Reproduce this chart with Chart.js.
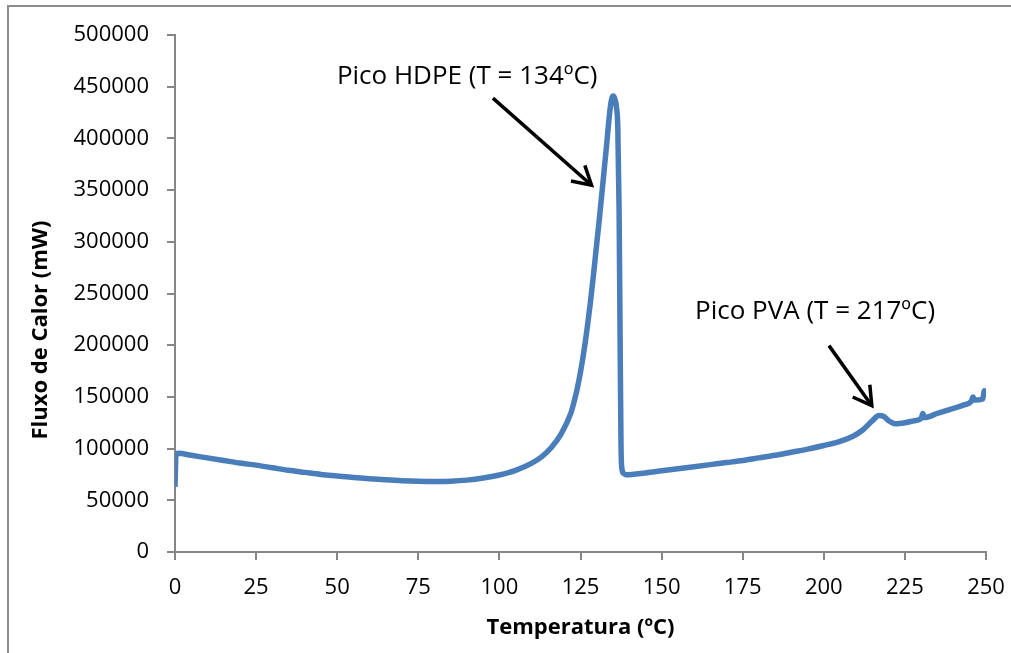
<!DOCTYPE html>
<html>
<head>
<meta charset="utf-8">
<script src="https://cdn.jsdelivr.net/npm/chart.js@4/dist/chart.umd.min.js"></script>
<style>
  html, body { margin: 0; padding: 0; background: #ffffff; }
  #wrap { width: 1011px; height: 653px; position: relative; }
</style>
</head>
<body>
<div id="wrap"><canvas id="c" width="1011" height="653"></canvas></div>
<script>
// Temperature (ºC)
const temperatura = [
  0, 0.3, 1, 5, 10, 15, 20, 25, 30, 35, 40, 45, 50, 55, 60, 65, 70, 75, 80, 85,
  90, 95, 100, 105, 110, 113, 116, 119, 122, 123, 124, 125, 126, 127, 128, 129, 130,
  131, 132, 133, 134, 134.6, 135.1, 135.6, 136.1, 136.5, 136.9, 137.2, 137.5, 137.8, 138.3,
  139, 145, 150, 155, 160, 165, 170, 175, 180, 185, 190, 195, 200, 205, 209, 212,
  215, 217, 218.5, 220, 222, 225, 228, 230, 230.5, 231, 235, 240, 243, 245.5, 246,
  246.5, 249, 249.5, 250
];
// Heat flow (mW)
const fluxo = [
  63000, 94000, 95500, 93500, 91000, 88500, 86000, 84000, 81500, 79000, 77000, 75000, 73500, 72000, 70800, 69800, 69000, 68500, 68300, 68500,
  69500, 71500, 74500, 79000, 86000, 92000, 101000, 114000, 134000, 145000, 158000, 174000, 193000, 215000, 240000, 268000, 298000,
  328000, 360000, 392000, 425000, 438000, 441000, 438000, 430000, 410000, 330000, 210000, 100000, 80000, 76000,
  74800, 76500, 78500, 80500, 82500, 84500, 86500, 88500, 91000, 93500, 96500, 99500, 103000, 107000, 112000, 118000,
  127000, 132000, 131000, 127000, 124000, 125000, 127000, 129000, 134000, 130000, 134000, 139000, 142000, 146000, 150000,
  147000, 148000, 156000, 152000
];
const xTicks = [0, 25, 50, 75, 100, 125, 150, 175, 200, 225, 250];
const yTicks = [0, 50000, 100000, 150000, 200000, 250000, 300000, 350000, 400000, 450000, 500000];

const xTitle = 'Temperatura (ºC)';
const yTitle = 'Fluxo de Calor (mW)';
// annotations: text anchor and arrow in data units
const notes = [
  { text: 'Pico HDPE (T = 134ºC)', tx: 49.9, ty: 460000, ax0: 98, ay0: 439000, ax1: 128.4, ay1: 354700 },
  { text: 'Pico PVA (T = 217ºC)', tx: 160.3, ty: 232600, ax0: 201.6, ay0: 199600, ax1: 214.8, ay1: 141500 }
];

const FONT = "'Open Sans', 'Liberation Sans', sans-serif";
const AXIS = '#868686';

const points = temperatura.map((t, i) => ({ x: t, y: fluxo[i] }));

const decor = {
  id: 'decor',
  beforeDraw(chart) {
    const ctx = chart.ctx;
    ctx.save();
    ctx.fillStyle = '#ffffff';
    ctx.fillRect(0, 0, chart.width, chart.height);
    ctx.strokeStyle = '#8c8c8c';
    ctx.lineWidth = 2;
    ctx.strokeRect(8, 6, chart.width + 20, chart.height + 20);
    ctx.restore();
  },
  afterDraw(chart) {
    const ctx = chart.ctx;
    const xs = chart.scales.x, ys = chart.scales.y;
    ctx.save();
    // y title
    ctx.translate(41, 330);
    ctx.rotate(-Math.PI / 2);
    ctx.font = 'bold 22px ' + FONT;
    ctx.fillStyle = '#000';
    ctx.textAlign = 'center';
    ctx.textBaseline = 'middle';
    ctx.fillText(yTitle, 0, 0);
    ctx.restore();

    ctx.save();
    ctx.font = '26px ' + FONT;
    ctx.fillStyle = '#000';
    ctx.textAlign = 'left';
    ctx.textBaseline = 'middle';
    ctx.strokeStyle = '#000';
    ctx.lineWidth = 3.5;
    ctx.lineCap = 'butt';
    notes.forEach(n => {
      ctx.fillText(n.text, xs.getPixelForValue(n.tx), ys.getPixelForValue(n.ty));
      const x0 = xs.getPixelForValue(n.ax0), y0 = ys.getPixelForValue(n.ay0);
      const x1 = xs.getPixelForValue(n.ax1), y1 = ys.getPixelForValue(n.ay1);
      ctx.beginPath();
      ctx.moveTo(x0, y0);
      ctx.lineTo(x1, y1);
      ctx.stroke();
      const ang = Math.atan2(y1 - y0, x1 - x0);
      const L = 21, sp = Math.PI / 6;
      ctx.beginPath();
      ctx.moveTo(x1 - L * Math.cos(ang - sp), y1 - L * Math.sin(ang - sp));
      ctx.lineTo(x1, y1);
      ctx.lineTo(x1 - L * Math.cos(ang + sp), y1 - L * Math.sin(ang + sp));
      ctx.stroke();
    });
    ctx.restore();
  }
};

new Chart(document.getElementById('c'), {
  type: 'scatter',
  data: {
    datasets: [{
      data: points,
      showLine: true,
      borderColor: '#4A7EBB',
      borderWidth: 5.5,
      pointRadius: 0,
      pointHoverRadius: 0,
      cubicInterpolationMode: 'monotone',
      fill: false
    }]
  },
  options: {
    responsive: false,
    animation: false,
    events: [],
    layout: { padding: { left: 0, right: 25, top: 35, bottom: 0 } },
    plugins: { legend: { display: false }, tooltip: { enabled: false } },
    scales: {
      x: {
        type: 'linear',
        min: 0, max: 250,
        afterBuildTicks: s => { s.ticks = xTicks.map(v => ({ value: v })); },
        afterFit: s => { s.height = 101; s.paddingRight = 0; s.paddingLeft = 0; },
        grid: { drawOnChartArea: false, drawTicks: true, tickLength: 8, color: AXIS, lineWidth: 2 },
        border: { color: AXIS, width: 2 },
        ticks: { color: '#000', font: { family: FONT, size: 22 }, padding: 15, maxRotation: 0, autoSkip: false,
                 callback: v => String(v) },
        title: { display: true, text: xTitle, color: '#000', font: { family: FONT, size: 22, weight: 'bold' },
                 padding: { top: 0, bottom: 12 } }
      },
      y: {
        type: 'linear',
        min: 0, max: 500000,
        afterBuildTicks: s => { s.ticks = yTicks.map(v => ({ value: v })); },
        afterFit: s => { s.width = 175; s.paddingTop = 0; s.paddingBottom = 0; },
        grid: { drawOnChartArea: false, drawTicks: true, tickLength: 8, color: AXIS, lineWidth: 2 },
        border: { color: AXIS, width: 2 },
        ticks: { color: '#000', font: { family: FONT, size: 22 }, padding: 18, autoSkip: false,
                 callback: v => String(v) }
      }
    }
  },
  plugins: [decor]
});
</script>
</body>
</html>
